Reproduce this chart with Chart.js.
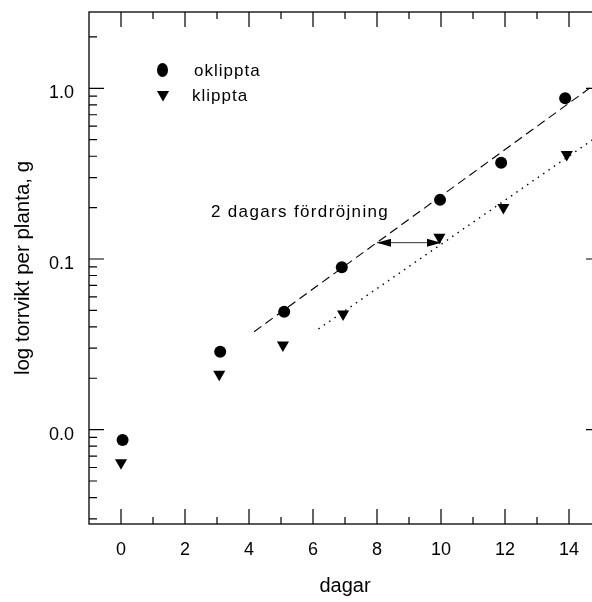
<!DOCTYPE html>
<html>
<head>
<meta charset="utf-8">
<script src="https://cdn.jsdelivr.net/npm/chart.js@4/dist/chart.umd.min.js"></script>
<style>
html,body{margin:0;padding:0;background:#fff;overflow:hidden;}
#wrap{position:relative;width:612px;height:602px;}
</style>
</head>
<body>
<div id="wrap"><canvas id="c" width="612" height="602"></canvas></div>
<script>
// ---- data ----
const oklipptaX = [0.05, 3.1, 5.1, 6.9, 9.97, 11.88, 13.88];
const oklipptaY = [0.0087, 0.0286, 0.0491, 0.0894, 0.222, 0.366, 0.874];
const klipptaX = [0, 3.07, 5.06, 6.94, 9.95, 11.95, 13.93];
const klipptaY = [0.0064, 0.0211, 0.0313, 0.0476, 0.134, 0.200, 0.41];
const fitOklipptaX = [4.16, 15];
const fitOklipptaY = [0.0375, 1.12];
const fitKlipptaX = [6.17, 15];
const fitKlipptaY = [0.0389, 0.54];
const arrowX = [8, 10];
const arrowY = [0.1246, 0.1246];
const annotationText = '2 dagars fördröjning';
const annotationAt = [2.81, 0.1885];
const seriesNames = ['oklippta', 'klippta'];
const xTitle = 'dagar';
const yTitle = 'log torrvikt per planta, g';
const xTicks = [0, 2, 4, 6, 8, 10, 12, 14];
const xTickLabels = ['0', '2', '4', '6', '8', '10', '12', '14'];
const xMinorTicks = [1, 3, 5, 7, 9, 11, 13];
const yTicks = [0.01, 0.1, 1];
const yTickLabels = ['0.0', '0.1', '1.0'];
const yMinorTicks = [0.003, 0.004, 0.005, 0.006, 0.007, 0.008, 0.009,
                     0.02, 0.03, 0.04, 0.05, 0.06, 0.07, 0.08, 0.09,
                     0.2, 0.3, 0.4, 0.5, 0.6, 0.7, 0.8, 0.9, 2];
const xRange = [-1, 15];
const yRange = [0.0028, 2.8];

const FONT = "'Liberation Sans', Arial, sans-serif";
Chart.defaults.font.family = FONT;
Chart.defaults.color = '#000';

const pts = (xs, ys) => xs.map((x, i) => ({x: x, y: ys[i]}));

function drawDownTriangle(ctx, cx, cy, r) {
  ctx.beginPath();
  for (let k = 0; k < 3; k++) {
    const a = Math.PI + k * 2 * Math.PI / 3;
    const px = cx + Math.sin(a) * r, py = cy - Math.cos(a) * r;
    if (k === 0) ctx.moveTo(px, py); else ctx.lineTo(px, py);
  }
  ctx.closePath();
  ctx.fill();
}

const framePlugin = {
  id: 'frame',
  beforeDatasetsDraw(chart) {
    const {ctx, chartArea: ca, scales: {x, y}} = chart;
    ctx.save();
    ctx.strokeStyle = '#000';
    ctx.lineWidth = 1.3;
    ctx.strokeRect(ca.left, ca.top, ca.right - ca.left, ca.bottom - ca.top);
    ctx.lineWidth = 1.2;
    ctx.beginPath();
    const vt = (v, len) => {
      const px = x.getPixelForValue(v);
      ctx.moveTo(px, ca.bottom); ctx.lineTo(px, ca.bottom - len);
      ctx.moveTo(px, ca.top); ctx.lineTo(px, ca.top + len);
    };
    const ht = (v, len) => {
      const py = y.getPixelForValue(v);
      ctx.moveTo(ca.left, py); ctx.lineTo(ca.left + len, py);
      ctx.moveTo(ca.right, py); ctx.lineTo(ca.right - len, py);
    };
    xTicks.forEach(v => vt(v, 15));
    xMinorTicks.forEach(v => vt(v, 7));
    yTicks.forEach(v => ht(v, 15));
    yMinorTicks.forEach(v => ht(v, 8));
    ctx.stroke();
    ctx.restore();
  },
  afterDatasetsDraw(chart) {
    const {ctx, scales: {x, y}} = chart;
    ctx.save();
    // arrow heads
    ctx.fillStyle = '#000';
    const ay = y.getPixelForValue(arrowY[0]);
    const a0 = x.getPixelForValue(arrowX[0]);
    const a1 = x.getPixelForValue(arrowX[1]);
    ctx.beginPath();
    ctx.moveTo(a0, ay); ctx.lineTo(a0 + 14, ay - 4); ctx.lineTo(a0 + 14, ay + 4); ctx.closePath();
    ctx.fill();
    ctx.beginPath();
    ctx.moveTo(a1, ay); ctx.lineTo(a1 - 14, ay - 4); ctx.lineTo(a1 - 14, ay + 4); ctx.closePath();
    ctx.fill();
    // annotation
    ctx.font = '17px ' + FONT;
    ctx.letterSpacing = '1.35px';
    ctx.textBaseline = 'middle';
    ctx.textAlign = 'left';
    ctx.fillText(annotationText, x.getPixelForValue(annotationAt[0]), y.getPixelForValue(annotationAt[1]));
    // legend
    ctx.letterSpacing = '1px';
    ctx.beginPath();
    ctx.ellipse(162.5, 70, 5.5, 7, 0, 0, Math.PI * 2);
    ctx.fill();
    drawDownTriangle(ctx, 163, 94.5, 7);
    ctx.fillText(seriesNames[0], 194, 71);
    ctx.fillText(seriesNames[1], 192, 96);
    ctx.restore();
  }
};

new Chart(document.getElementById('c'), {
  type: 'scatter',
  data: {
    datasets: [
      {label: seriesNames[0], data: pts(oklipptaX, oklipptaY), pointStyle: 'circle', pointRadius: 6,
       pointBorderWidth: 0, backgroundColor: '#000', borderColor: '#000', showLine: false, order: 1},
      {label: seriesNames[1], data: pts(klipptaX, klipptaY), pointStyle: 'triangle', pointRotation: 180,
       pointRadius: 7, pointBorderWidth: 0, backgroundColor: '#000', borderColor: '#000', showLine: false, order: 1},
      {label: 'fit oklippta', data: pts(fitOklipptaX, fitOklipptaY), showLine: true, pointRadius: 0,
       borderColor: '#000', borderWidth: 1.1, borderDash: [9, 5], order: 2},
      {label: 'fit klippta', data: pts(fitKlipptaX, fitKlipptaY), showLine: true, pointRadius: 0,
       borderColor: '#000', borderWidth: 1.4, borderDash: [1.5, 5], order: 2},
      {label: 'arrow', data: pts(arrowX, arrowY), showLine: true, pointRadius: 0,
       borderColor: '#333', borderWidth: 1, order: 2}
    ]
  },
  options: {
    responsive: false,
    devicePixelRatio: 1,
    animation: false,
    events: [],
    layout: {padding: {top: 12, right: 11, left: 0, bottom: 0}},
    plugins: {legend: {display: false}, tooltip: {enabled: false}},
    scales: {
      x: {
        type: 'linear', min: xRange[0], max: xRange[1],
        afterBuildTicks: s => { s.ticks = xTicks.map(v => ({value: v})); },
        afterFit: s => { s.height = 78; s.paddingLeft = 0; s.paddingRight = 0; },
        ticks: {callback: v => xTickLabels[xTicks.indexOf(v)], font: {size: 18}, color: '#000',
                padding: 15, autoSkip: false, maxRotation: 0},
        grid: {display: false, drawTicks: false},
        border: {display: false},
        title: {display: true, text: xTitle, font: {size: 20}, color: '#000', padding: {top: 0, bottom: 4}}
      },
      y: {
        type: 'logarithmic', min: yRange[0], max: yRange[1],
        afterBuildTicks: s => { s.ticks = yTicks.map(v => ({value: v})); },
        afterFit: s => { s.width = 89; s.paddingTop = 0; s.paddingBottom = 0; },
        ticks: {callback: v => yTickLabels[yTicks.indexOf(v)], font: {size: 18}, color: '#000',
                padding: 15, labelOffset: 5, autoSkip: false},
        grid: {display: false, drawTicks: false},
        border: {display: false},
        title: {display: true, text: yTitle, font: {size: 20.5}, color: '#000', padding: {top: 11, bottom: 0}}
      }
    }
  },
  plugins: [framePlugin]
});
</script>
</body>
</html>
